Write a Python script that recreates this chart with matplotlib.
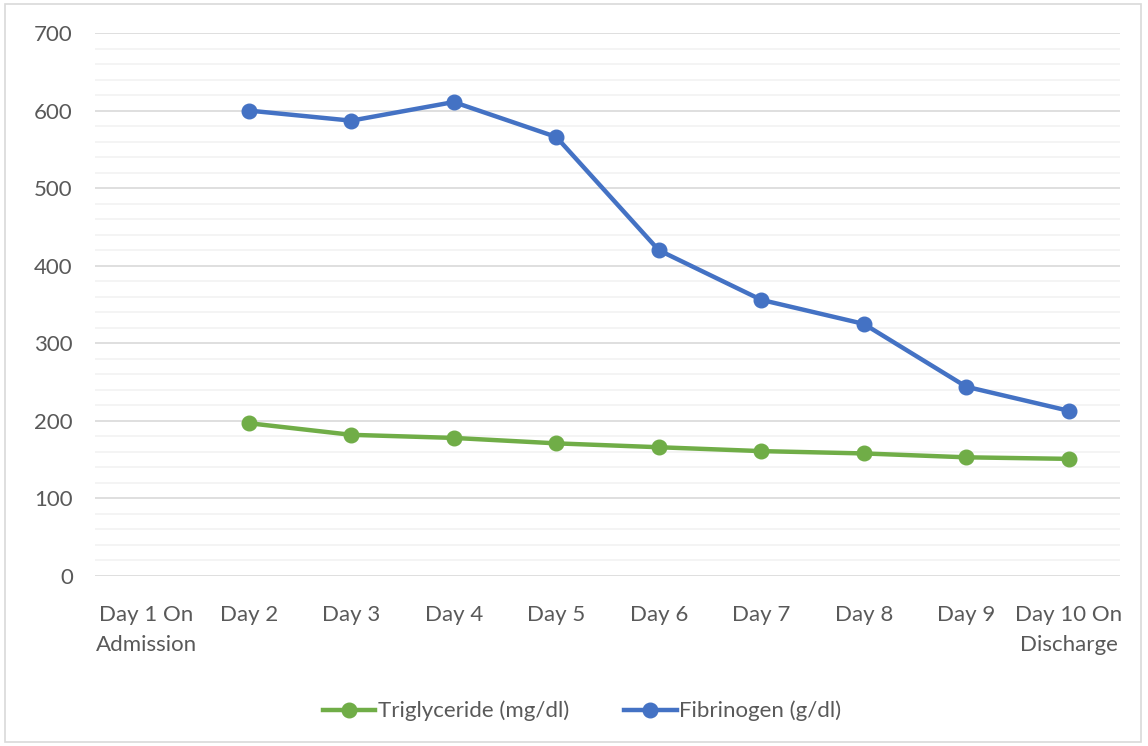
import numpy as np
import matplotlib
matplotlib.use("Agg")
import matplotlib.pyplot as plt
from matplotlib.patches import Rectangle
from matplotlib.ticker import MultipleLocator

categories = ["Day 1 On\nAdmission", "Day 2", "Day 3", "Day 4", "Day 5", "Day 6",
              "Day 7", "Day 8", "Day 9", "Day 10 On\nDischarge"]
triglyceride = [np.nan, 197, 182, 178, 171, 166, 161, 158, 153, 151]
fibrinogen = [np.nan, 600, 587, 611, 566, 420, 356, 325, 244, 213]

plt.rcParams['font.family'] = ['Lato', 'DejaVu Sans']
text_color = '#595959'
fs = 16

fig = plt.figure(figsize=(11.48, 7.46), dpi=100)
fig.patches.append(Rectangle((5/1148, 4/746), 1136/1148, 738/746, transform=fig.transFigure,
                             fill=False, edgecolor='#d9d9d9', linewidth=1.2))
ax = fig.add_axes([95/1148, 1-576/746, 1025/1148, 543/746])

x = np.arange(len(categories))
ax.plot(x, triglyceride, color='#70AD47', linewidth=3.2, marker='o', markersize=10.5,
        label='Triglyceride (mg/dl)', zorder=3)
ax.plot(x, fibrinogen, color='#4472C4', linewidth=3.2, marker='o', markersize=10.5,
        label='Fibrinogen (g/dl)', zorder=3)

ax.set_xlim(-0.5, len(categories) - 0.5)
ax.set_ylim(0, 700)
ax.yaxis.set_major_locator(MultipleLocator(100))
ax.yaxis.set_minor_locator(MultipleLocator(20))
ax.grid(axis='y', which='major', color='#d9d9d9', linewidth=1.2, zorder=0)
ax.grid(axis='y', which='minor', color='#f2f2f2', linewidth=1.2, zorder=0)
ax.set_axisbelow(True)
for s in ax.spines.values():
    s.set_visible(False)
ax.set_xticks(x)
ax.set_xticklabels(categories, fontsize=fs, color=text_color, linespacing=1.6)
ax.tick_params(axis='x', length=0, pad=21)
ax.tick_params(axis='y', which='both', length=0, pad=16, labelsize=fs, labelcolor=text_color)

leg = fig.legend(loc='center', bbox_to_anchor=(582/1148, 1-711/746), ncol=2, frameon=False,
                 fontsize=fs, handlelength=2.35, columnspacing=2.5, handletextpad=0.1)
for t in leg.get_texts():
    t.set_color(text_color)

fig.savefig('out.png', dpi=100)
